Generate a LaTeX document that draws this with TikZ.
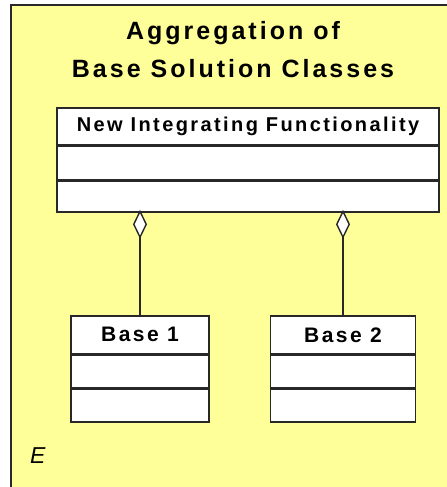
\documentclass[tikz,border=0pt]{standalone}
\usepackage{fontspec}
\setmainfont{Liberation Sans}
\newfontfamily\spacedsans[LetterSpace=12]{Liberation Sans}
\usetikzlibrary{arrows.meta}
\definecolor{paneyellow}{RGB}{255,255,153}
\definecolor{inkgray}{RGB}{40,40,40}
\tikzset{
  frame/.style={draw=inkgray, line width=2.2bp, fill=paneyellow},
  classpart/.style={draw=inkgray, line width=1.6bp, fill=white, inner sep=0pt, anchor=north},
  classhead/.style={classpart, font=\spacedsans\bfseries\fontsize{20bp}{22bp}\selectfont},
  aggregation/.style={draw=inkgray, line width=1.6bp, shorten >=-3bp,
    -{Diamond[open, fill=white, length=29bp, width=14bp, line width=1.4bp]}},
}
\begin{document}
\begin{tikzpicture}[x=1bp, y=-1bp]
  \useasboundingbox (0,0) rectangle (447,487);
  \clip (0,0) rectangle (447,487);
  % package frame, open to the right and bottom
  \draw[frame] (11,5) rectangle (470,510);
  % title (base anchor sits on the last line)
  \node[font=\spacedsans\bfseries\fontsize{25bp}{38bp}\selectfont, align=center, anchor=base]
    (title) at (233,78) {Aggregation of\\Base Solution Classes};
  % composite class
  \node[classhead, minimum width=382bp, minimum height=37bp] (nifH) at (248,107) {New Integrating Functionality};
  \node[classpart, minimum width=382bp, minimum height=33bp] (nifA) at (nifH.south) {};
  \node[classpart, minimum width=382bp, minimum height=31bp] (nifO) at (nifA.south) {};
  % base classes
  \node[classhead, font=\spacedsans\bfseries\fontsize{21bp}{22bp}\selectfont,
        minimum width=138bp, minimum height=38bp] (b1H) at (140,315) {Base 1};
  \node[classpart, minimum width=138bp, minimum height=32bp] (b1A) at (b1H.south) {};
  \node[classpart, minimum width=138bp, minimum height=33bp] (b1O) at (b1A.south) {};
  \node[classhead, font=\spacedsans\bfseries\fontsize{21bp}{22bp}\selectfont,
        minimum width=145bp, minimum height=38bp] (b2H) at (343,315) {Base 2};
  \node[classpart, minimum width=145bp, minimum height=32bp] (b2A) at (b2H.south) {};
  \node[classpart, minimum width=145bp, minimum height=33bp] (b2O) at (b2A.south) {};
  % aggregation links
  \draw[aggregation] (b1H.north) -- (b1H.north |- nifO.south);
  \draw[aggregation] (b2H.north) -- (b2H.north |- nifO.south);
  % package name
  \node[font=\itshape\fontsize{23bp}{24bp}\selectfont, anchor=base west, inner sep=0pt]
    (pkg) at (30,463) {E};
\end{tikzpicture}
\end{document}
